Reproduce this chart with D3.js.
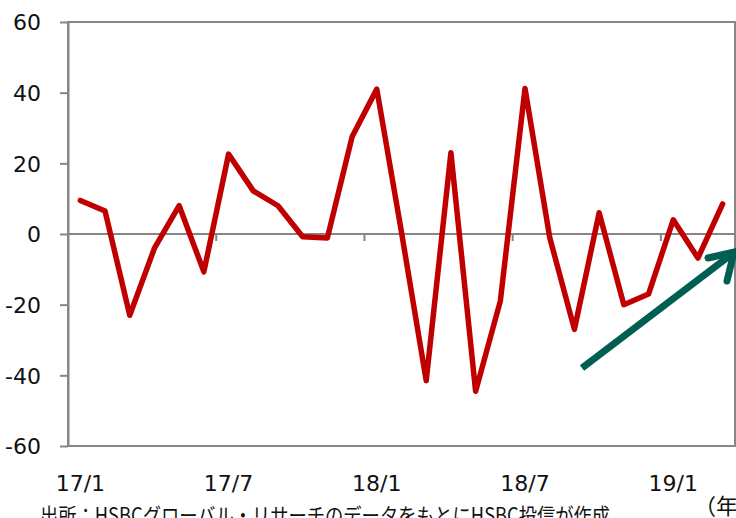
<!DOCTYPE html>
<html><head><meta charset="utf-8">
<script src="https://cdn.jsdelivr.net/npm/d3@7"></script>
<style>html,body{margin:0;padding:0;background:#fff;overflow:hidden}svg{display:block}</style>
</head><body>
<script>
const categories = ["17/1","17/2","17/3","17/4","17/5","17/6","17/7","17/8","17/9","17/10","17/11","17/12",
  "18/1","18/2","18/3","18/4","18/5","18/6","18/7","18/8","18/9","18/10","18/11","18/12",
  "19/1","19/2","19/3"];
const values = [9.5, 6.5, -23, -4, 8, -10.7, 22.6, 12.2, 8, -0.8, -1.1, 27.5,
  41, 0.5, -41.5, 23, -44.5, -19, 41.2, -1, -27, 6, -20, -17,
  4, -6.8, 8.5];
const xTickLabels = ["17/1","17/7","18/1","18/7","19/1"];
const yTicks = [-60,-40,-20,0,20,40,60];
const sourceText = "出所：HSBCグローバル・リサーチのデータをもとにHSBC投信が作成";
const unitText = "（年）";

const W = 736, H = 518;
const svg = d3.select("body").append("svg").attr("width", W).attr("height", H);
const L = 68, R = 735, T = 22, B = 446;
const x = d3.scaleBand().domain(categories).range([L, R]).padding(0);
const y = d3.scaleLinear().domain([-60, 60]).range([B, T]);
const gray = "#868686";
const font = "'DejaVu Sans', Verdana, sans-serif";

// frame
svg.append("rect").attr("x", L).attr("y", T).attr("width", R - L).attr("height", B - T)
  .attr("fill", "none").attr("stroke", gray).attr("stroke-width", 2);

// y axis
const yAxis = d3.axisLeft(y).tickValues(yTicks).tickSize(8).tickSizeOuter(0).tickFormat(d3.format("d"));
const gy = svg.append("g").attr("transform", `translate(${L},0)`).call(yAxis);
gy.select(".domain").attr("stroke", gray).attr("stroke-width", 2);
gy.selectAll(".tick line").attr("stroke", gray).attr("stroke-width", 2);
gy.selectAll(".tick text").attr("x", -27).attr("dy", "0.36em")
  .attr("font-family", font).attr("font-size", 22).attr("fill", "#111")
  .text(d => d < 0 ? "-" + Math.abs(d) : d);

// zero line with ticks at 6-month boundaries
const y0 = y(0);
svg.append("line").attr("x1", L).attr("x2", R).attr("y1", y0).attr("y2", y0)
  .attr("stroke", gray).attr("stroke-width", 2);
const boundaryCats = categories.filter((c, i) => i > 0 && i % 6 === 0);
svg.selectAll(".xt").data(boundaryCats).join("line")
  .attr("x1", d => x(d)).attr("x2", d => x(d))
  .attr("y1", y0).attr("y2", y0 + 7)
  .attr("stroke", gray).attr("stroke-width", 2);

// x labels
svg.selectAll(".xl").data(xTickLabels).join("text")
  .attr("x", d => x(d) + x.bandwidth() / 2).attr("y", 491)
  .attr("text-anchor", "middle").attr("font-family", font).attr("font-size", 22).attr("fill", "#111")
  .text(d => d);

// line
const line = d3.line().x((d, i) => x(categories[i]) + x.bandwidth() / 2).y(d => y(d));
svg.append("path").datum(values).attr("d", line)
  .attr("fill", "none").attr("stroke", "#C00000").attr("stroke-width", 5.5)
  .attr("stroke-linejoin", "round").attr("stroke-linecap", "round");

// arrow
const ag = svg.append("g").attr("stroke", "#005E52").attr("stroke-width", 7).attr("fill", "none")
  .attr("stroke-linecap", "butt").attr("stroke-linejoin", "miter");
const tip = [734, 252];
ag.append("line").attr("x1", 582).attr("y1", 368).attr("x2", tip[0] - 2).attr("y2", tip[1] + 2);
ag.append("polyline").attr("points", `708,258 ${tip[0]},${tip[1]} 727,281`)
  .attr("stroke-linecap", "round");

// source & unit
svg.append("text").attr("x", 40).attr("y", 523)
  .attr("font-family", "'Noto Sans CJK JP', sans-serif").attr("font-size", 21).attr("fill", "#111")
  .attr("textLength", 570).attr("lengthAdjust", "spacingAndGlyphs")
  .text(sourceText);
svg.append("text").attr("x", 694).attr("y", 514)
  .attr("font-family", "'Noto Sans CJK JP', sans-serif").attr("font-size", 22).attr("fill", "#111")
  .text(unitText);
</script>
</body></html>
